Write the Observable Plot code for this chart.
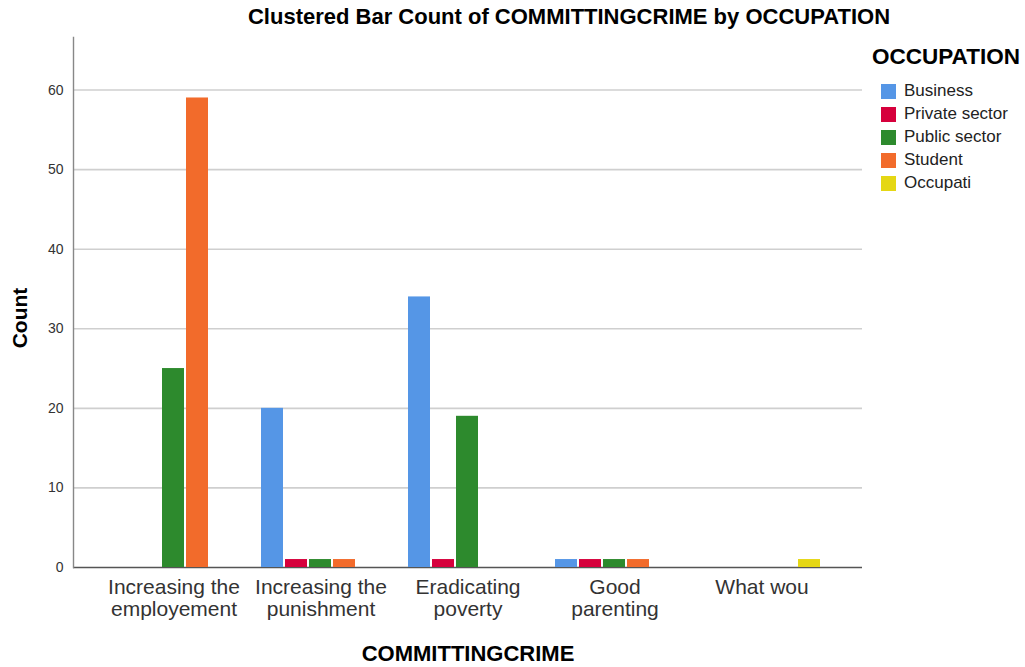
<!DOCTYPE html>
<html><head><meta charset="utf-8">
<script src="https://cdn.jsdelivr.net/npm/d3@7"></script>
<script src="https://cdn.jsdelivr.net/npm/@observablehq/plot@0.6"></script>
<style>
body{margin:0;background:#fff;font-family:"Liberation Sans",Arial,sans-serif;}
#wrap{position:relative;width:1025px;height:667px;overflow:hidden;}
.layer{position:absolute;left:0;top:0;}
.layer svg{display:block;}
.t{position:absolute;white-space:nowrap;color:#000;}
#title{left:569px;top:4px;transform:translateX(-50%);font-weight:bold;font-size:22px;}
#ylab{left:20px;top:318px;transform:translate(-50%,-50%) rotate(-90deg);font-weight:bold;font-size:21px;}
#xlab{left:468px;top:641px;transform:translateX(-50%);font-weight:bold;font-size:22px;}
#legtitle{left:872px;top:44px;font-weight:bold;font-size:22.5px;}
.li{position:absolute;left:881px;height:16px;}
.sw{position:absolute;left:0;top:0;width:15px;height:15px;}
.lt{position:absolute;left:23px;top:-3px;font-size:17px;color:#222;white-space:nowrap;}
</style></head>
<body><div id="wrap">
<div class="layer" id="back"></div>
<div class="layer" id="bars"></div>
<div class="t" id="title">Clustered Bar Count of COMMITTINGCRIME by OCCUPATION</div>
<div class="t" id="ylab">Count</div>
<div class="t" id="xlab">COMMITTINGCRIME</div>
<div class="t" id="legtitle">OCCUPATION</div>
<div id="legend"></div>
</div>
<script>
const categories = ["Increasing the employement", "Increasing the punishment", "Eradicating poverty", "Good parenting", "What wou"];
const categoryTickLabels = ["Increasing the\nemployement", "Increasing the\npunishment", "Eradicating\npoverty", "Good\nparenting", "What wou"];
const occupations = ["Business", "Private sector", "Public sector", "Student", "Occupati"];
const occupationColors = ["#5596e6", "#d6003c", "#2d8a2d", "#f26b2b", "#e5d714"];
const business      = [null, 20, 34, 1, null];
const privateSector = [null, 1, 1, 1, null];
const publicSector  = [25, 1, 19, 1, null];
const student       = [59, 1, null, 1, null];
const occupati      = [null, null, null, null, 1];
const yTicks = [0, 10, 20, 30, 40, 50, 60];

const series = [business, privateSector, publicSector, student, occupati];
const rows = [];
series.forEach((vals, i) => vals.forEach((v, j) => {
  if (v != null) rows.push({category: categories[j], occupation: occupations[i], count: v});
}));
const tickMap = new Map(categories.map((c, i) => [c, categoryTickLabels[i]]));

const common = {
  width: 1025, height: 667,
  marginTop: 37, marginBottom: 100, marginLeft: 73, marginRight: 163,
  style: {fontFamily: "Liberation Sans, Arial, sans-serif", background: "transparent", overflow: "visible"}
};
const bandPad = {paddingInner: 0.175, paddingOuter: 0.268};
const yScale = {domain: [0, 66.6], label: null};

// background: grid, axes, category labels
const back = Plot.plot({
  ...common,
  x: {type: "band", domain: categories, ...bandPad, label: null},
  y: yScale,
  marks: [
    Plot.ruleY(yTicks.filter(d => d > 0), {stroke: "#cfcfcf", strokeWidth: 1.6}),
    Plot.ruleY([0], {stroke: "#555", strokeWidth: 1.6}),
    Plot.frame({anchor: "left", stroke: "#888", strokeWidth: 1.4}),
    Plot.axisY({ticks: yTicks, tickSize: 0, tickPadding: 10, fontSize: 14, label: null, color: "#333"}),
    Plot.axisX({anchor: "bottom", tickSize: 0, tickPadding: 11, fontSize: 21, label: null, lineHeight: 1.05, color: "#333", tickFormat: d => tickMap.get(d)})
  ]
});
document.getElementById("back").appendChild(back);

// foreground: clustered bars, faceted by category
const bars = Plot.plot({
  ...common,
  fx: {domain: categories, ...bandPad, axis: null, label: null},
  x: {domain: occupations, paddingInner: 0.07, paddingOuter: 0.03, axis: null},
  y: {...yScale, axis: null},
  color: {domain: occupations, range: occupationColors},
  marks: [
    Plot.barY(rows, {fx: "category", x: "occupation", y: "count", fill: "occupation"})
  ]
});
document.getElementById("bars").appendChild(bars);

const legend = document.getElementById("legend");
occupations.forEach((o, i) => {
  const d = document.createElement("div");
  d.className = "li";
  d.style.top = (84 + i * 23) + "px";
  d.innerHTML = `<div class="sw" style="background:${occupationColors[i]}"></div><div class="lt">${o}</div>`;
  legend.appendChild(d);
});
</script>
</body></html>
